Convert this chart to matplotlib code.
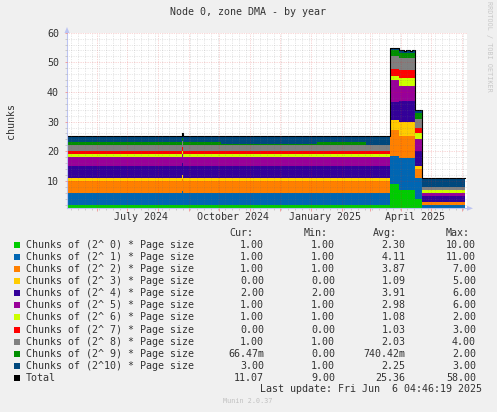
import matplotlib
matplotlib.use('Agg')
import matplotlib.pyplot as plt
import matplotlib.dates as mdates
import matplotlib.ticker as mticker
from matplotlib.patches import Rectangle, Polygon
import numpy as np

plt.rcParams['font.family'] = ['DejaVu Sans Mono']

# --- data (step values, one value per segment) ---
seg_dates = ['2024-05-02T04:46', '2024-08-25', '2024-08-26', '2024-10-03',
             '2025-01-07', '2025-02-25', '2025-03-21', '2025-03-30',
             '2025-04-04', '2025-04-06', '2025-04-10', '2025-04-12',
             '2025-04-15', '2025-04-22', '2025-06-04']  # last = end of data

o0 = [2, 2, 2, 2, 2, 2, 9, 7, 7, 7, 7, 7, 4, 1]
o1 = [4, 4.5, 4, 4, 4, 4, 9.5, 10.7, 10.7, 10.7, 10.7, 10.7, 7, 1]
o2 = [4, 4, 4, 4, 4, 4, 8.5, 7.3, 7.3, 7.3, 7.3, 7.3, 3, 1]
o3 = [1, 1.5, 1, 1, 1, 1, 3.5, 5, 5, 5, 5, 5, 1, 0]
o4 = [4, 4, 4, 4, 4, 4, 6, 7, 7, 7, 7, 7, 5, 2]
o5 = [3, 3, 3, 3, 3, 3, 7.5, 5, 5, 5, 5, 5, 4, 1]
o6 = [1, 1, 1, 1, 1, 1, 1.5, 2.6, 2.6, 2.6, 2.6, 2.6, 2, 1]
o7 = [1, 1.3, 1, 1, 1, 1, 2.3, 2.8, 2.8, 2.8, 2.8, 2.8, 2, 0]
o8 = [2, 2, 2, 2, 2, 2, 4.2, 4, 4, 4, 4, 4, 3, 1]
o9 = [1, 1, 1, 0.5, 1, 0, 2, 1.9, 1.9, 1.9, 1.9, 1.9, 2, 0]
o10 = [2, 2, 2, 2.5, 2, 3, 0.8, 0.9, 0.5, 0.9, 0.4, 0.8, 1, 3]

labels = ['Chunks of (2^ 0) * Page size', 'Chunks of (2^ 1) * Page size',
          'Chunks of (2^ 2) * Page size', 'Chunks of (2^ 3) * Page size',
          'Chunks of (2^ 4) * Page size', 'Chunks of (2^ 5) * Page size',
          'Chunks of (2^ 6) * Page size', 'Chunks of (2^ 7) * Page size',
          'Chunks of (2^ 8) * Page size', 'Chunks of (2^ 9) * Page size',
          'Chunks of (2^10) * Page size', 'Total']
cur = ['1.00', '1.00', '1.00', '0.00', '2.00', '1.00', '1.00', '0.00', '1.00', '66.47m', '3.00', '11.07']
mins = ['1.00', '1.00', '1.00', '0.00', '2.00', '1.00', '1.00', '0.00', '1.00', '0.00', '1.00', '9.00']
avgs = ['2.30', '4.11', '3.87', '1.09', '3.91', '2.98', '1.08', '1.03', '2.03', '740.42m', '2.25', '25.36']
maxs = ['10.00', '11.00', '7.00', '5.00', '6.00', '6.00', '2.00', '3.00', '4.00', '2.00', '3.00', '58.00']

x_labels = ['July 2024', 'October 2024', 'January 2025', 'April 2025']
x_label_dates = ['2024-07-15', '2024-10-15', '2025-01-15', '2025-04-15']

colors = ['#00CC00', '#0066B3', '#FF8000', '#FFCC00', '#330099', '#990099',
          '#CCFF00', '#FF0000', '#808080', '#008F00', '#00487D', '#000000']

txt = '#333333'
axis_col = '#BCC4F2'

fig = plt.figure(figsize=(4.97, 4.12), dpi=100, facecolor='#F0F0F0')
W, H = 497, 412
# plot area in pixels: x 67..467, y 32.7..208.3
ax = fig.add_axes([67 / W, 1 - 208.3 / H, 400 / W, (208.3 - 32.7) / H])
ax.set_facecolor('white')

x = mdates.date2num(np.array(seg_dates, dtype='datetime64[m]'))
layers = [o0, o1, o2, o3, o4, o5, o6, o7, o8, o9, o10]
ys = [np.append(v, v[-1]) for v in layers]
ax.stackplot(x, ys, colors=colors[:11], step='post', lw=0)
total = np.sum(ys, axis=0)
ax.step(x, total, where='post', color='black', lw=0.8)

t0 = mdates.date2num(np.datetime64('2024-05-02T04:46'))
ax.set_xlim(t0, t0 + 400)
ax.set_ylim(0.74, 60)

ax.yaxis.set_major_locator(mticker.MultipleLocator(10))
ax.yaxis.set_minor_locator(mticker.MultipleLocator(2))
ax.xaxis.set_major_locator(mdates.MonthLocator())
ax.xaxis.set_minor_locator(mdates.WeekdayLocator(byweekday=mdates.MO))
ax.xaxis.set_major_formatter(mticker.NullFormatter())

ax.set_axisbelow(False)
ax.grid(which='minor', color='#707070', ls=(0, (0.7, 1.4)), lw=0.6, alpha=0.3)
ax.grid(which='major', color='#E02020', ls=(0, (0.7, 1.4)), lw=0.6, alpha=0.35)

ax.tick_params(axis='both', which='major', length=1.8, width=0.6, color='#F09595',
               labelsize=7.2, labelcolor=txt, pad=4)
ax.tick_params(axis='both', which='minor', length=1.5, width=0.6, color='#C4C4C4')

for s in ['top', 'right']:
    ax.spines[s].set_visible(False)
for s in ['left', 'bottom']:
    ax.spines[s].set_color(axis_col)
    ax.spines[s].set_linewidth(0.8)

for lab, d in zip(x_labels, x_label_dates):
    ax.text(mdates.date2num(np.datetime64(d)), -0.047, lab, transform=ax.get_xaxis_transform(),
            ha='center', va='center', fontsize=7.2, color=txt)

# overlay in pixel coordinates for texts and legend
ov = fig.add_axes([0, 0, 1, 1], zorder=3)
ov.set_xlim(0, W)
ov.set_ylim(H, 0)
ov.axis('off')

ov.add_patch(Polygon([[64.5, 33], [69.5, 33], [67, 27]], closed=True, color=axis_col, lw=0))
ov.add_patch(Polygon([[467, 205.8], [467, 210.8], [473, 208.3]], closed=True, color=axis_col, lw=0))

ov.text(248.5, 12, 'Node 0, zone DMA - by year', ha='center', va='center', fontsize=7.2, color=txt)
ov.text(11, 120.5, 'chunks', ha='center', va='center', rotation=90, fontsize=7.2, color=txt)
ov.text(489.5, 46, 'RRDTOOL / TOBI OETIKER', ha='center', va='center', rotation=270,
        fontsize=4.9, color='#C8C8C8')

ov.text(253.5, 232.5, 'Cur:', ha='right', va='center', fontsize=7.2, color=txt)
ov.text(327.5, 232.5, 'Min:', ha='right', va='center', fontsize=7.2, color=txt)
ov.text(397, 232.5, 'Avg:', ha='right', va='center', fontsize=7.2, color=txt)
ov.text(470, 232.5, 'Max:', ha='right', va='center', fontsize=7.2, color=txt)

for i, lab in enumerate(labels):
    yy = 245.3 + 12.03 * i
    ov.add_patch(Rectangle((14, yy - 3), 6, 6, color=colors[i], lw=0))
    ov.text(26, yy, lab, ha='left', va='center', fontsize=7.2, color=txt)
    ov.text(264, yy, cur[i], ha='right', va='center', fontsize=7.2, color=txt)
    ov.text(335, yy, mins[i], ha='right', va='center', fontsize=7.2, color=txt)
    ov.text(405.5, yy, avgs[i], ha='right', va='center', fontsize=7.2, color=txt)
    ov.text(476, yy, maxs[i], ha='right', va='center', fontsize=7.2, color=txt)

ov.text(482.5, 388.5, 'Last update: Fri Jun  6 04:46:19 2025', ha='right', va='center',
        fontsize=7.2, color=txt)
ov.text(248, 401, 'Munin 2.0.37', ha='center', va='center', fontsize=4.9, color='#C0C0C0')

fig.savefig('out.png', dpi=100, facecolor=fig.get_facecolor())
